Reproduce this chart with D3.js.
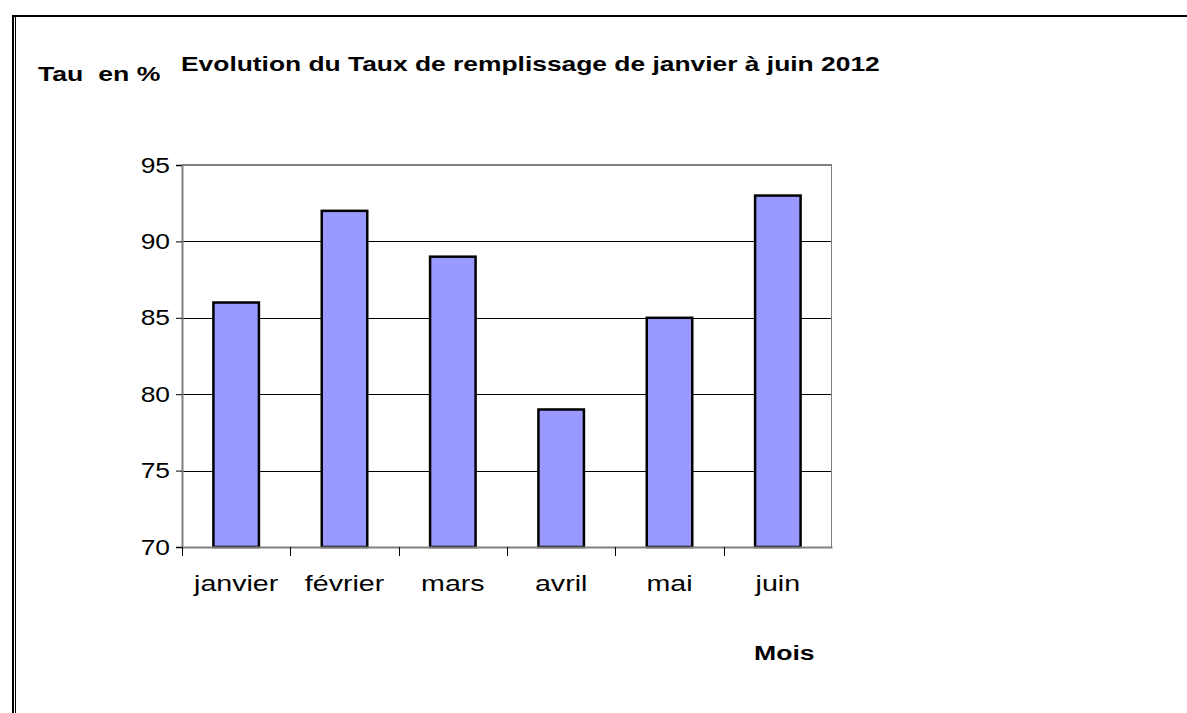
<!DOCTYPE html>
<html>
<head>
<meta charset="utf-8">
<script src="https://cdn.jsdelivr.net/npm/d3@7"></script>
<style>
  body { margin: 0; background: #fff; }
  svg { display: block; }
  text { font-family: "Liberation Sans", Arial, sans-serif; fill: #000; }
</style>
</head>
<body>
<div id="chart"></div>
<script>
// data
var months = ["janvier", "février", "mars", "avril", "mai", "juin"];
var taux = [86, 92, 89, 79, 85, 93];
var yTicks = [70, 75, 80, 85, 90, 95];

var width = 1187, height = 713;
var stretch = 1.3; // the source text is wider than normal Arial

var plot = {left: 182, right: 832, top: 165, bottom: 547};

var svg = d3.select("#chart")
    .append("svg")
    .attr("width", width)
    .attr("height", height)

// page frame (top line + doubled left line)
svg.append("line")
    .attr("x1", 12).attr("x2", width)
    .attr("y1", 16).attr("y2", 16)
    .attr("stroke", "#000").attr("stroke-width", 2)
svg.append("line")
    .attr("x1", 13).attr("x2", 13)
    .attr("y1", 15).attr("y2", height)
    .attr("stroke", "#000").attr("stroke-width", 2)
svg.append("line")
    .attr("x1", 15.5).attr("x2", 15.5)
    .attr("y1", 17).attr("y2", height)
    .attr("stroke", "#000").attr("stroke-width", 1)

var y = d3.scaleLinear()
    .domain([70, 95])
    .range([plot.bottom, plot.top]);

var xCat = d3.scaleBand()
    .domain(months)
    .range([plot.left, plot.right])
    .padding(0);

var x = d3.scaleBand()
    .domain(months)
    .range([plot.left, plot.right])
    .paddingInner(0.58)
    .paddingOuter(0.29);

// gridlines
svg.append("g")
    .selectAll("line")
    .data(yTicks.filter(function(d) { return d > 70 && d < 95; }))
    .enter()
    .append("line")
    .attr("x1", plot.left).attr("x2", plot.right)
    .attr("y1", function(d) { return Math.round(y(d)) + 0.5; })
    .attr("y2", function(d) { return Math.round(y(d)) + 0.5; })
    .attr("stroke", "#000")
    .attr("stroke-width", 1);

// plot border top + right
svg.append("line")
    .attr("x1", plot.left).attr("x2", plot.right)
    .attr("y1", y(95)).attr("y2", y(95))
    .attr("stroke", "#808080").attr("stroke-width", 2)
svg.append("line")
    .attr("x1", plot.right - 0.5).attr("x2", plot.right - 0.5)
    .attr("y1", y(95)).attr("y2", plot.bottom)
    .attr("stroke", "#808080").attr("stroke-width", 1)

// bars
svg.append("g")
    .selectAll("rect")
    .data(months)
    .enter()
    .append("rect")
    .attr("x", function(d) { return x(d); })
    .attr("y", function(d, i) { return y(taux[i]); })
    .attr("width", x.bandwidth())
    .attr("height", function(d, i) { return plot.bottom - y(taux[i]); })
    .attr("fill", "#9999ff")
    .attr("stroke", "#000")
    .attr("stroke-width", 2.5);

// y axis
var yAxis = svg.append("g")
    .attr("transform", "translate(" + plot.left + ",0)")
    .call(d3.axisLeft(y).tickValues(yTicks).tickSize(6).tickPadding(12));
yAxis.select(".domain").attr("stroke", "#808080").attr("stroke-width", 2);
yAxis.selectAll(".tick line").attr("stroke", "#000");
yAxis.selectAll(".tick text")
    .attr("x", 0)
    .attr("transform", "translate(-12,0) scale(1.2,1)")
    .attr("font-size", 22)
    .attr("font-family", null);

// x axis: labels centred, ticks on the band edges
var xAxis = svg.append("g")
    .attr("transform", "translate(0," + plot.bottom + ")")
    .call(d3.axisBottom(xCat).tickSize(0).tickSizeOuter(0));
xAxis.select(".domain").attr("stroke", "#808080").attr("stroke-width", 2);
xAxis.selectAll(".tick text")
    .attr("y", 0)
    .attr("dy", 0)
    .attr("transform", "translate(0,44) scale(" + stretch + ",1)")
    .attr("font-size", 22)
    .attr("font-family", null);

svg.append("g")
    .selectAll("line")
    .data(months)
    .enter()
    .append("line")
    .attr("x1", function(d) { return Math.round(xCat(d)) + 0.5; })
    .attr("x2", function(d) { return Math.round(xCat(d)) + 0.5; })
    .attr("y1", plot.bottom)
    .attr("y2", plot.bottom + 9)
    .attr("stroke", "#000");

// titles
function label(txt, px, py, size) {
    svg.append("text")
        .attr("transform", "translate(" + px + "," + py + ") scale(" + stretch + ",1)")
        .attr("font-size", size)
        .attr("font-weight", "bold")
        .style("white-space", "pre")
        .text(txt);
}
label("Tau  en %", 38, 81, 20.5);
label("Evolution du Taux de remplissage de janvier à juin 2012", 181, 71, 20.3);
label("Mois", 754, 660, 20.5);
</script>
</body>
</html>
